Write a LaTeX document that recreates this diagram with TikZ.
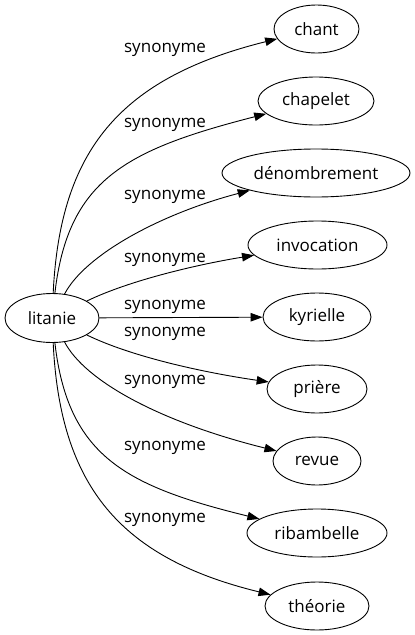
\documentclass[tikz,border=0pt]{standalone}
\usepackage{fontspec}
\setmainfont{Open Sans}
\usetikzlibrary{arrows.meta,shapes.geometric}
\tikzset{
  term/.style={draw, ellipse, line width=0.9pt, minimum height=48pt, inner sep=0pt, font=\fontsize{17}{20}\selectfont},
  lbl/.style={font=\fontsize{17}{20}\selectfont, inner sep=0pt},
  edge/.style={line width=0.9pt, -{Triangle[length=12pt,width=8.5pt]}}
}
\begin{document}
\begin{tikzpicture}[x=1pt,y=-1pt]
\useasboundingbox (0,0) rectangle (415,635);
\node[term, minimum width=94pt, minimum height=49pt] (lit) at (52,318) {litanie};
\node[term, minimum width=85pt] (chant) at (316.5,29) {chant};
\node[term, minimum width=116pt] (chap) at (316,101) {chapelet};
\node[term, minimum width=188pt] (den) at (316,173) {dénombrement};
\node[term, minimum width=139pt] (inv) at (317.5,245) {invocation};
\node[term, minimum width=108pt] (kyr) at (317,317) {kyrielle};
\node[term, minimum width=100pt] (pri) at (317,389) {prière};
\node[term, minimum width=88pt] (rev) at (317,461) {revue};
\node[term, minimum width=140pt] (rib) at (317,533) {ribambelle};
\node[term, minimum width=104pt] (the) at (317,606) {théorie};

\draw[edge] (lit) .. controls (60,150) and (120,78) .. (chant);
\draw[edge] (lit) .. controls (68,180) and (125,150) .. (chap);
\draw[edge] (lit) .. controls (85,255) and (160,214) .. (den);
\draw[edge] (lit) .. controls (130,280) and (200,264) .. (inv);
\draw[edge] (lit) -- (kyr);
\draw[edge] (lit) .. controls (130,356) and (200,372) .. (pri);
\draw[edge] (lit) .. controls (85,381) and (160,422) .. (rev);
\draw[edge] (lit) .. controls (68,456) and (125,486) .. (rib);
\draw[edge] (lit) .. controls (60,486) and (120,558) .. (the);

\node[lbl] (l1) at (165,50) {synonyme};
\node[lbl] (l2) at (165,125) {synonyme};
\node[lbl] (l3) at (165,197) {synonyme};
\node[lbl] (l4) at (165,260) {synonyme};
\node[lbl] (l5) at (165,307) {synonyme};
\node[lbl] (l6) at (165,334) {synonyme};
\node[lbl] (l7) at (165,382) {synonyme};
\node[lbl] (l8) at (165,448) {synonyme};
\node[lbl] (l9) at (165,520) {synonyme};
\end{tikzpicture}
\end{document}
